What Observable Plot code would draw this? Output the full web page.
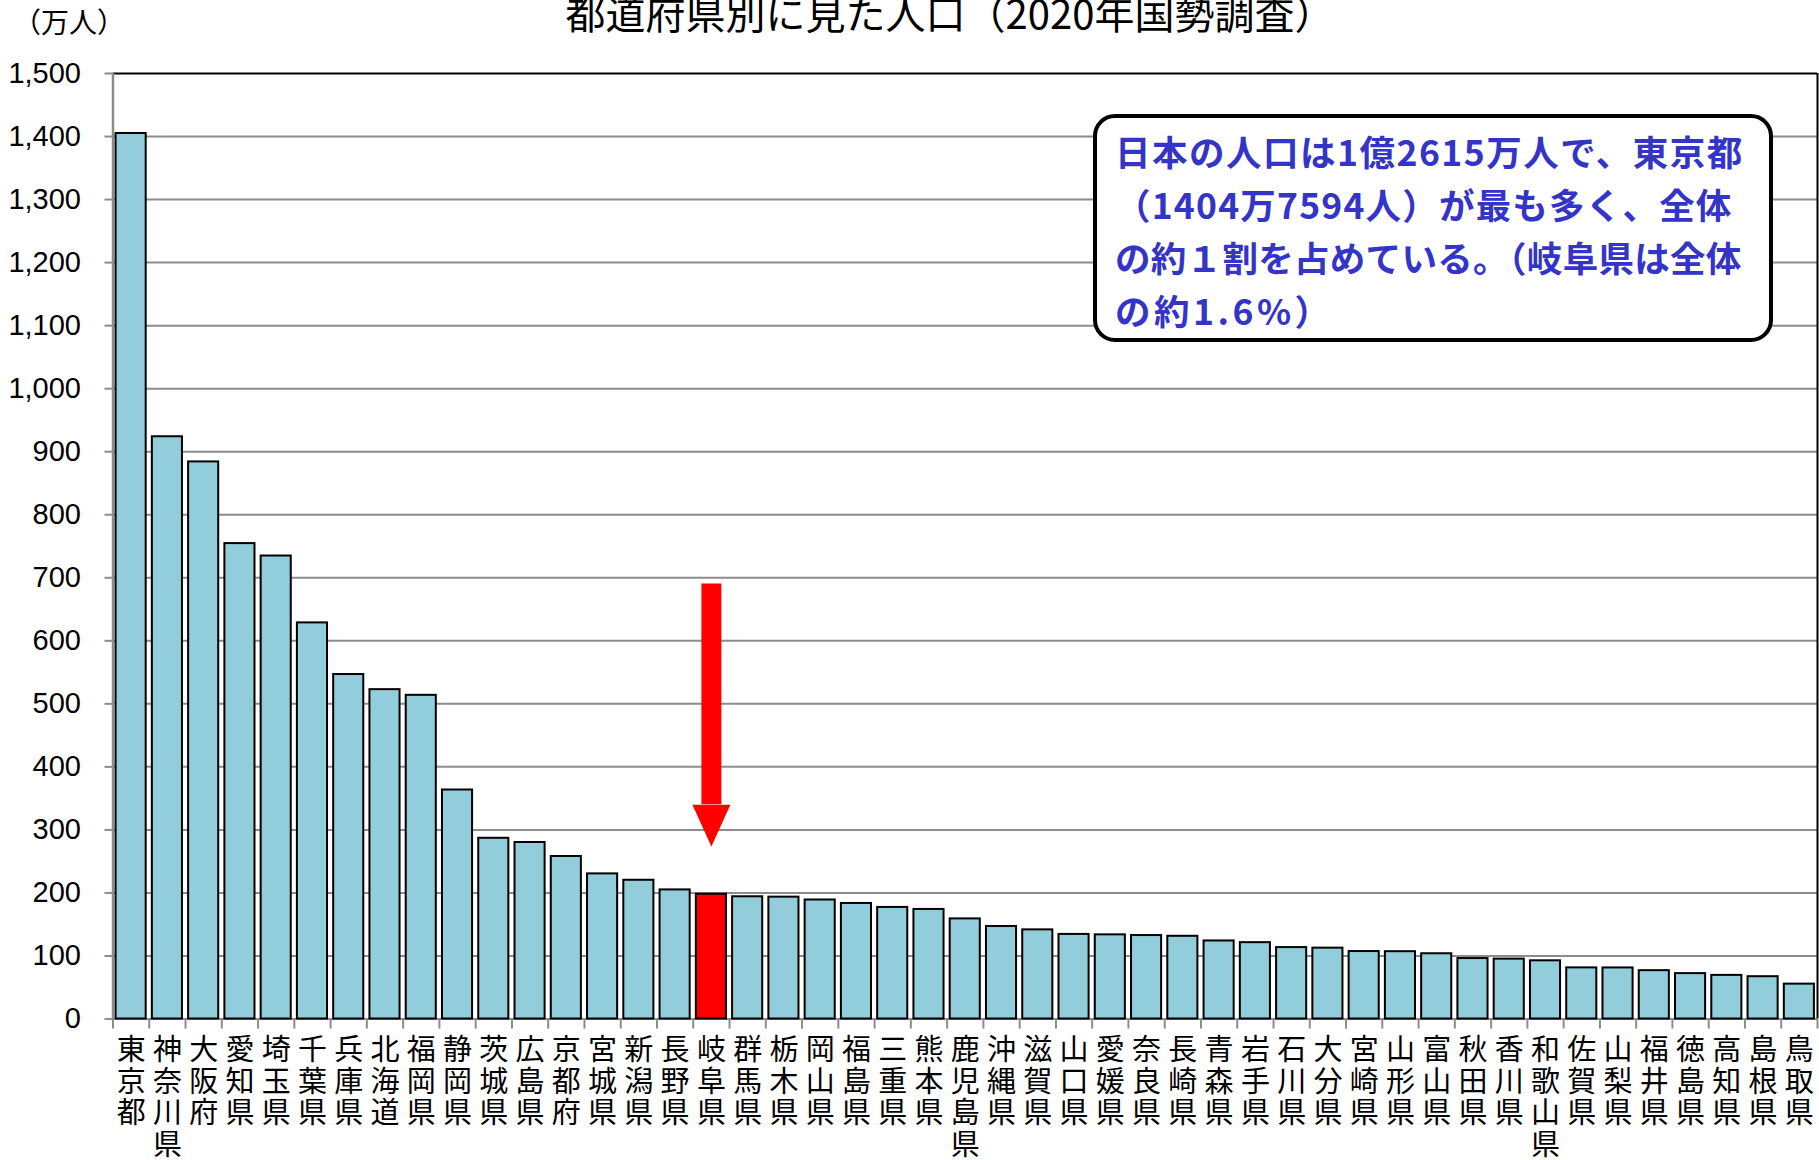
<!DOCTYPE html>
<html lang="ja">
<head>
<meta charset="utf-8">
<script src="https://cdn.jsdelivr.net/npm/d3@7"></script>
<script src="https://cdn.jsdelivr.net/npm/@observablehq/plot@0.6"></script>
<style>
  html, body { margin: 0; padding: 0; background: #fff; overflow: hidden; }
  #wrap { position: relative; width: 1819px; height: 1160px; }
  #title {
    position: absolute; left: 950px; top: -8px; transform: translateX(-50%);
    font-family: "Noto Sans CJK JP", sans-serif; font-size: 40px; line-height: 1;
    white-space: nowrap; color: #000;
  }
  #unit {
    position: absolute; left: 13px; top: 7px;
    font-family: "Noto Sans CJK JP", sans-serif; font-size: 28px; line-height: 1;
    white-space: nowrap; color: #000;
  }
  #note {
    position: absolute; left: 1093px; top: 114px; width: 672px; height: 220px;
    box-sizing: content-box;
    border: 4px solid #000; border-radius: 22px; background: #fff;
  }
  #note .lines { position: absolute; left: 18px; top: 6px; }
  #note .lines div {
    font-family: "Noto Sans CJK JP", sans-serif; font-weight: bold; font-size: 35.5px;
    line-height: 53px; height: 53px; color: #3434c8; white-space: pre;
  }
  #note .l1 { letter-spacing: 1.5px; }
  #note .l2 { letter-spacing: 1.2px; }
  #note .l3 { letter-spacing: 0.3px; }
  #note .l4 { letter-spacing: 3.5px; }
</style>
</head>
<body>
<div id="wrap">
  <div id="chart"></div>
  <div id="title">都道府県別に見た人口（2020年国勢調査）</div>
  <div id="unit">（万人）</div>
  <div id="note"><div class="lines">
    <div class="l1">日本の人口は1億2615万人で、東京都</div>
    <div class="l2">（1404万7594人）が最も多く、全体</div>
    <div class="l3">の約１割を占めている。（岐阜県は全体</div>
    <div class="l4">の約1.6%）</div>
  </div></div>
</div>
<script>
// ---- data (万人) ----
const prefectures = [
  "東京都","神奈川県","大阪府","愛知県","埼玉県","千葉県","兵庫県","北海道","福岡県","静岡県",
  "茨城県","広島県","京都府","宮城県","新潟県","長野県","岐阜県","群馬県","栃木県","岡山県",
  "福島県","三重県","熊本県","鹿児島県","沖縄県","滋賀県","山口県","愛媛県","奈良県","長崎県",
  "青森県","岩手県","石川県","大分県","宮崎県","山形県","富山県","秋田県","香川県","和歌山県",
  "佐賀県","山梨県","福井県","徳島県","高知県","島根県","鳥取県"
];
const populations = [
  1404.8, 923.7, 883.8, 754.2, 734.5, 628.4, 546.5, 522.5, 513.5, 363.3,
  286.7, 280.0, 257.8, 230.2, 220.1, 204.8, 197.9, 193.9, 193.3, 188.8,
  183.3, 177.0, 173.8, 158.8, 146.7, 141.4, 134.2, 133.5, 132.4, 131.2,
  123.8, 121.1, 113.3, 112.4, 107.0, 106.8, 103.5, 95.9, 95.0, 92.3,
  81.1, 81.0, 76.7, 72.0, 69.2, 67.1, 55.3
];
const highlight = "岐阜県";
const yTicks = d3.range(0, 1501, 100);
const arrowTop = 690;   // 万人 (value level of the arrow's tail)
const arrowBase = 340;  // 万人 (value level where the head begins)

const data = prefectures.map((name, i) => ({name, value: populations[i]}));

const W = 1819, H = 1160, mL = 112.5, mR = 2, mT = 73, mB = 141.5;
const step = (W - mL - mR) / prefectures.length;
const last = prefectures[prefectures.length - 1];
const gridColor = "#8c8c8c";

const arrowHead = {
  draw(ctx, size) {
    const r = Math.sqrt(size / Math.PI);
    ctx.moveTo(-r, 0);
    ctx.lineTo(r, 0);
    ctx.lineTo(0, 2.2 * r);
    ctx.closePath();
  }
};

const chart = Plot.plot({
  width: W, height: H,
  marginTop: mT, marginBottom: mB, marginLeft: mL, marginRight: mR,
  style: {background: "white", overflow: "visible"},
  x: {domain: prefectures, paddingInner: 0.17, paddingOuter: 0.085, round: false, axis: null, label: null},
  y: {domain: [0, 1500], axis: null, label: null},
  marks: [
    Plot.gridY(yTicks.slice(0, -1), {stroke: gridColor, strokeOpacity: 1, strokeWidth: 2}),
    Plot.ruleY([1500], {stroke: "black", strokeWidth: 2}),
    Plot.ruleX([prefectures[0]], {x: d => d, dx: -step / 2, y1: 0, y2: 1500, stroke: gridColor, strokeWidth: 2.5}),
    Plot.ruleX([last], {x: d => d, dx: step / 2, y1: 0, y2: 1500, stroke: "black", strokeWidth: 2}),
    Plot.ruleX(prefectures, {x: d => d, dx: -step / 2, y1: 0, y2: -16, stroke: gridColor, strokeWidth: 2}),
    Plot.ruleX([last], {x: d => d, dx: step / 2, y1: 0, y2: -16, stroke: gridColor, strokeWidth: 2}),
    Plot.barY(data, {
      x: "name", y: "value",
      fill: d => d.name === highlight ? "#ff0000" : "#92cddc",
      stroke: "black", strokeWidth: 2
    }),
    Plot.axisY(yTicks, {
      label: null,
      tickFormat: d3.format(","), tickSize: 8, tickPadding: 24,
      fontSize: 29, fontFamily: "'Liberation Sans', Arial, sans-serif",
      stroke: gridColor, strokeWidth: 2, fill: "black"
    }),
    Plot.axisX({
      label: null,
      tickSize: 0, tickPadding: 18, fontSize: 29, lineHeight: 1.1,
      fontFamily: "'Noto Sans CJK JP', sans-serif", fill: "black",
      tickFormat: d => Array.from(d).join("\n")
    }),
    Plot.ruleX([highlight], {x: d => d, y1: arrowBase, y2: arrowTop, stroke: "#ff0000", strokeWidth: 20}),
    Plot.dot([highlight], {x: d => d, y: arrowBase, r: 19, fill: "#ff0000", stroke: null, symbol: arrowHead})
  ]
});
document.getElementById("chart").appendChild(chart);
</script>
</body>
</html>
